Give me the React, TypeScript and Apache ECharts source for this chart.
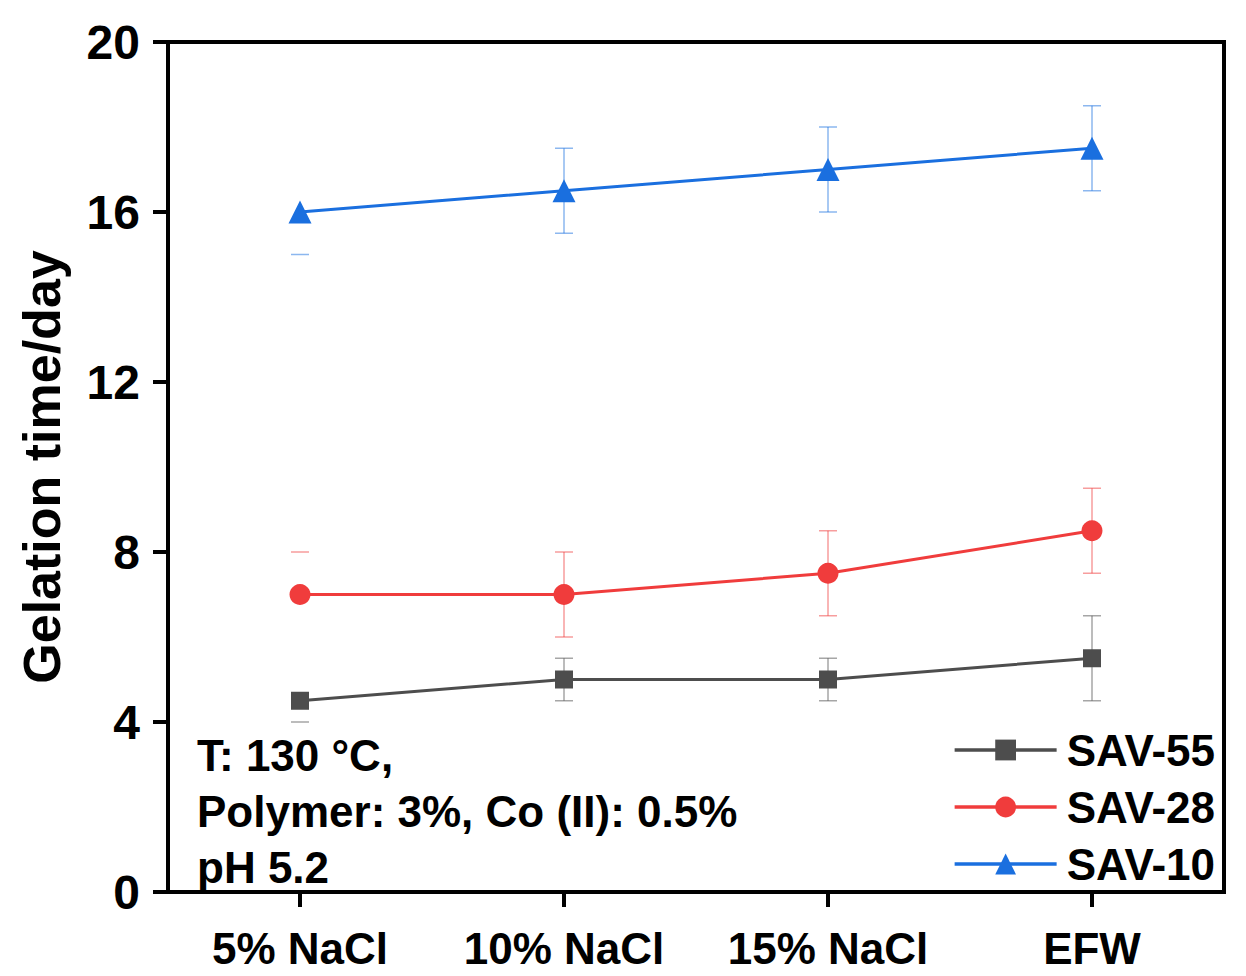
import React, { useEffect, useRef } from "react";
import * as echarts from "echarts";

const categories = ["5% NaCl", "10% NaCl", "15% NaCl", "EFW"];
const yTicks = { min: 0, max: 20, interval: 4 };

const seriesNames = ["SAV-55", "SAV-28", "SAV-10"];
const sav55 = [4.5, 5, 5, 5.5];
const sav28 = [7, 7, 7.5, 8.5];
const sav10 = [16, 16.5, 17, 17.5];

// error amounts (upper / lower); 0 means no cap drawn
const sav55Up = [0, 0.5, 0.5, 1];
const sav55Down = [0.5, 0.5, 0.5, 1];
const sav28Up = [1, 1, 1, 1];
const sav28Down = [0, 1, 1, 1];
const sav10Up = [0, 1, 1, 1];
const sav10Down = [1, 1, 1, 1];
// whether the vertical stem of the error bar is visible
const stemVisible = [0, 1, 1, 1];

const annotation = ["T: 130 °C,", "Polymer: 3%, Co (II): 0.5%", "pH 5.2"];

const FONT = '"Liberation Sans", Arial, Helvetica, sans-serif';
const colors = ["#4d4d4d", "#f03c3c", "#1a6fdf"];

export default function App() {
  const ref = useRef<HTMLDivElement>(null);

  useEffect(() => {
    document.body.style.margin = "0";
    if (!ref.current) return;
    const chart = echarts.init(ref.current, undefined, { renderer: "svg" });

    const values = [sav55, sav28, sav10];
    const ups = [sav55Up, sav28Up, sav10Up];
    const downs = [sav55Down, sav28Down, sav10Down];
    const symbols = ["rect", "circle", "triangle"];
    const symbolSizes = [18, 21, 23];

    const lineSeries = seriesNames.map((name, i) => ({
      name,
      type: "line",
      data: values[i],
      symbol: symbols[i],
      symbolSize: symbolSizes[i],
      showAllSymbol: true,
      itemStyle: { color: colors[i] },
      lineStyle: { color: colors[i], width: 3 },
      z: 3,
    }));

    const errorSeries = seriesNames.map((name, i) => ({
      name: name + "-err",
      type: "custom",
      z: 2,
      silent: true,
      data: values[i].map((v, j) => [j, v - downs[i][j], v + ups[i][j], v, stemVisible[j], downs[i][j], ups[i][j]]),
      renderItem: (params: any, api: any) => {
        const x = api.value(0);
        const lo = api.value(1);
        const hi = api.value(2);
        const stem = api.value(4);
        const dn = api.value(5);
        const up = api.value(6);
        const pLo = api.coord([x, lo]);
        const pHi = api.coord([x, hi]);
        const cap = 9;
        const style = { stroke: colors[i], lineWidth: 1.5, opacity: 0.5 };
        const children: any[] = [];
        if (stem) {
          children.push({ type: "line", shape: { x1: pLo[0], y1: pLo[1], x2: pHi[0], y2: pHi[1] }, style });
        }
        if (up > 0) {
          children.push({ type: "line", shape: { x1: pHi[0] - cap, y1: pHi[1], x2: pHi[0] + cap, y2: pHi[1] }, style });
        }
        if (dn > 0) {
          children.push({ type: "line", shape: { x1: pLo[0] - cap, y1: pLo[1], x2: pLo[0] + cap, y2: pLo[1] }, style });
        }
        return { type: "group", children };
      },
    }));

    chart.setOption({
      animation: false,
      backgroundColor: "#fff",
      grid: {
        left: 168,
        right: 22,
        top: 42,
        bottom: 84,
        show: true,
        borderColor: "#000",
        borderWidth: 4,
      },
      legend: {
        data: seriesNames,
        orient: "vertical",
        right: 31,
        top: 728,
        padding: 0,
        itemWidth: 102,
        itemHeight: 26,
        itemGap: 13,
        lineStyle: { width: 3.5 },
        textStyle: { fontFamily: FONT, fontWeight: "bold", fontSize: 44, color: "#000", padding: [0, 0, 0, 5] },
      },
      xAxis: {
        type: "category",
        data: categories,
        boundaryGap: true,
        axisLine: { show: true, lineStyle: { color: "#000", width: 4 } },
        axisTick: { show: true, alignWithLabel: true, inside: false, length: 15, lineStyle: { color: "#000", width: 4 } },
        axisLabel: { fontFamily: FONT, fontWeight: "bold", fontSize: 44, color: "#000", margin: 34 },
        splitLine: { show: false },
      },
      yAxis: {
        type: "value",
        min: yTicks.min,
        max: yTicks.max,
        interval: yTicks.interval,
        name: "Gelation time/day",
        nameLocation: "middle",
        nameGap: 100,
        nameRotate: 90,
        nameTextStyle: { fontFamily: FONT, fontWeight: "bold", fontSize: 52, color: "#000" },
        axisLine: { show: true, lineStyle: { color: "#000", width: 4 } },
        axisTick: { show: true, inside: false, length: 15, lineStyle: { color: "#000", width: 4 } },
        axisLabel: { fontFamily: FONT, fontWeight: "bold", fontSize: 48, color: "#000", margin: 28 },
        splitLine: { show: false },
      },
      graphic: [
        {
          type: "text",
          left: 197,
          top: 727,
          z: 10,
          style: {
            text: annotation.join("\n"),
            fontFamily: FONT,
            fontWeight: "bold",
            fontSize: 44,
            lineHeight: 56,
            fill: "#000",
          },
        },
      ],
      series: [...errorSeries, ...lineSeries],
    });

    return () => chart.dispose();
  }, []);

  return <div ref={ref} style={{ width: 1246, height: 976 }} />;
}
